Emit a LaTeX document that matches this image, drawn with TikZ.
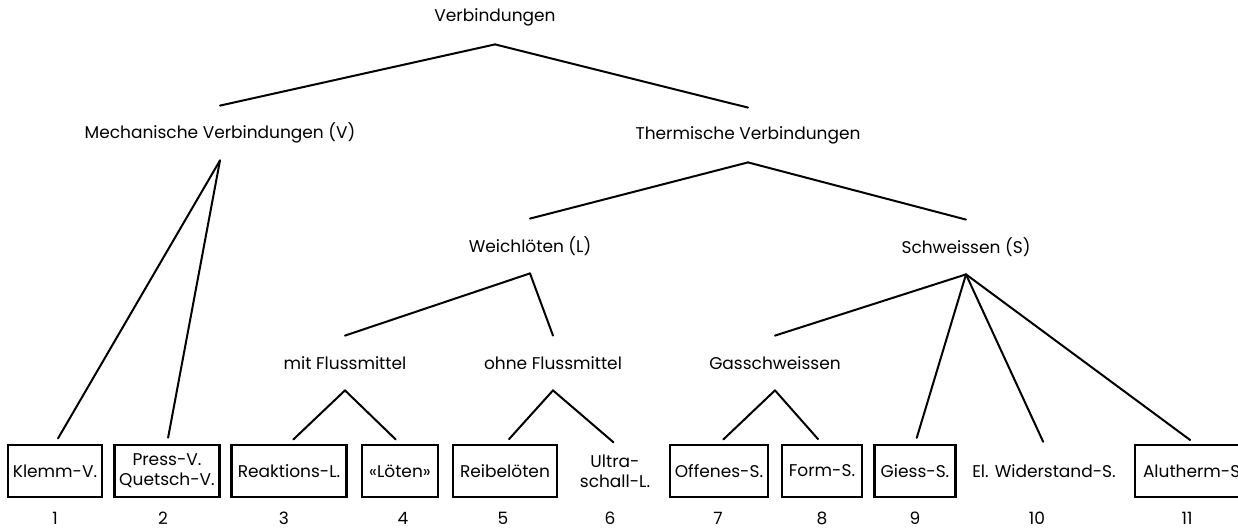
\documentclass[tikz,border=0pt]{standalone}
\usepackage{fontspec}
\setmainfont{Poppins}
\usepackage{tikz}
\usetikzlibrary{positioning}

\begin{document}
\begin{tikzpicture}
[x=0.5pt, y=-0.5pt,
cat/.style ={minimum height=27pt, inner sep=0pt,
font=\fontsize{8.5}{10}\selectfont},
leaf/.style ={draw, line width=1.4pt, minimum height=26pt,
inner sep=2pt, align=center, font=\fontsize{8.5}{10}\selectfont},
plain leaf/.style ={leaf, draw=none},
num/.style ={inner sep=0pt, font=\fontsize{8.5}{10}\selectfont},
line/.style ={draw, line width=1pt, line cap=round},
toleaf/.style ={line, shorten >=3pt}]
\clip (0,0) rectangle (1238,528);
% upper levels
\node [cat]                  (v)     at (495, 17)             {Verbindungen};
\node [cat]                  (mv)    at (220, 133)            {Mechanische Verbindungen (V)};
\node [cat]                  (tv)    at (748, 135)            {Thermische Verbindungen};
\node [cat]                  (wl)    at (530, 246)            {Weichlöten (L)};
\node [cat]                  (sw)    at (966, 247)            {Schweissen (S)};
\node [cat]                  (mf)    at (345, 363)            {mit Flussmittel};
\node [cat]                  (of)    at (553, 363)            {ohne Flussmittel};
\node [cat]                  (gs)    at (775, 363)            {Gasschweissen};

% leaves
\node [leaf, minimum width=47pt]    (klemm) at (55, 471)    {Klemm-V.};
\node [leaf, minimum width=52.5pt]  (press) at (167, 471)   {Press-V.\\Quetsch-V.};
\node [leaf, minimum width=57.5pt]  (reak)  at (289, 471)   {Reaktions-L.};
\node [leaf, minimum width=38pt]    (loet)  at (400, 471)   {«Löten»};
\node [leaf, minimum width=52pt]    (reib)  at (505, 471)   {Reibelöten};
\node [plain leaf]                  (ultra) at (615, 471)   {Ultra-\\schall-L.};
\node [leaf, minimum width=49pt]    (offen) at (719, 471)   {Offenes-S.};
\node [leaf, minimum width=40pt]    (form)  at (822, 471)   {Form-S.};
\node [leaf, minimum width=40.5pt]  (giess) at (915, 471)   {Giess-S.};
\node [plain leaf]                  (widst) at (1044, 471)  {El. Widerstand-S.};
\node [leaf, minimum width=60pt, text width=52pt, align=left]
                                    (alu)   at (1195, 471)  {Alutherm-S};

\node [num]                  (n1)    at (55, 518)             {1};
\node [num]                  (n2)    at (163, 518)            {2};
\node [num]                  (n3)    at (284, 518)            {3};
\node [num]                  (n4)    at (403, 518)            {4};
\node [num]                  (n5)    at (503, 518)            {5};
\node [num]                  (n6)    at (610, 518)            {6};
\node [num]                  (n7)    at (718, 518)            {7};
\node [num]                  (n8)    at (822, 518)            {8};
\node [num]                  (n9)    at (915, 518)            {9};
\node [num]                  (n10)   at (1037, 518)           {10};
\node [num]                  (n11)   at (1187, 518)           {11};

\draw  [line] (v.south) to (mv.north);
\draw  [line] (v.south) to (tv.north);

\draw  [toleaf] (mv.south) to (klemm.north);
\draw  [toleaf] (mv.south) to (press.north);

\draw  [line] (tv.south) to (wl.north);
\draw  [line] (tv.south) to (sw.north);

\draw  [line] (wl.south) to (mf.north);
\draw  [line] (wl.south) to (of.north);
\draw  [toleaf] (mf.south) to (reak.north);
\draw  [toleaf] (mf.south) to (loet.north);
\draw  [toleaf] (of.south) to (reib.north);
\draw  [toleaf, shorten >=1pt] (of.south) to (ultra.north);

\draw  [line] (sw.south) to (gs.north);
\draw  [toleaf] (gs.south) to (offen.north);
\draw  [toleaf] (gs.south) to (form.north);
\draw  [toleaf] (sw.south) to (giess.north);
\draw  [toleaf, shorten >=1pt] (sw.south) to (widst.north);
\draw  [toleaf] (sw.south) to (alu.north);

\end{tikzpicture}
\end{document}
